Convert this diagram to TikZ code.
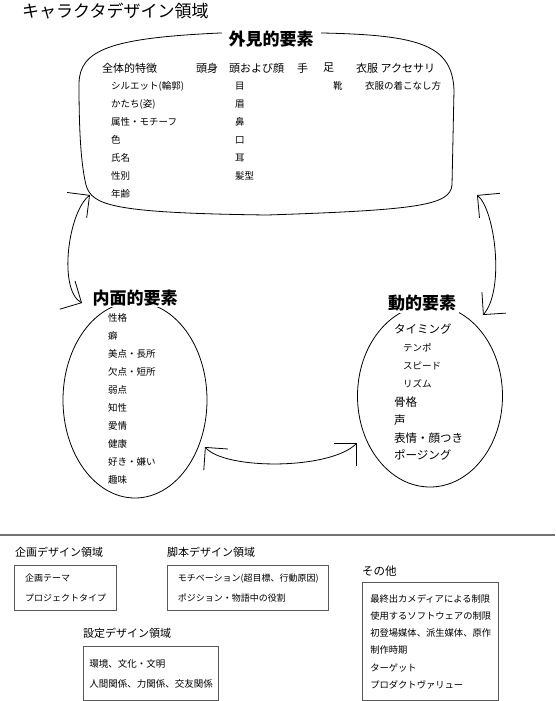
\documentclass[tikz,border=0pt]{standalone}
\usepackage{fontspec}
\setmainfont{Noto Sans CJK JP}
\usetikzlibrary{positioning,arrows.meta,shapes.geometric}
\tikzset{
  midasi/.style={font=\fontsize{17}{17}\selectfont\bfseries,fill=white,inner xsep=7pt,inner ysep=2pt},
  bunrui/.style={font=\fontsize{11}{11}\selectfont,anchor=west,inner sep=0pt},
  koumoku/.style={font=\fontsize{9.5}{9.5}\selectfont,anchor=west,inner sep=0pt},
  dousa/.style={font=\fontsize{11.5}{11.5}\selectfont,anchor=west,inner sep=0pt},
  hako/.style={draw=black!65,line width=1.4pt,anchor=north west,align=left,inner sep=0pt,font=\fontsize{9}{20}\selectfont},
  rinkaku/.style={line width=0.8pt},
  barb/.tip={Straight Barb[length=16pt,width=32pt,line width=0.8pt]},
  yajirushi/.style={barb-barb,line width=0.8pt},
}

\begin{document}
\begin{tikzpicture}[x=1pt,y=-1pt]
  \useasboundingbox (0,0) rectangle (555,701);
  \node[anchor=west,inner sep=0pt,font=\fontsize{17}{17}\selectfont] (ryouiki) at (22,11) {キャラクタデザイン領域};

  % gaiken
  \draw[rinkaku] (79,83) .. controls (80,50) and (110,38) .. (220,33) -- (322,33)
    .. controls (420,35) and (452,45) .. (454,90) -- (452,185)
    .. controls (450,205) and (420,210) .. (267,215)
    .. controls (110,213) and (92,205) .. (86,185)
    .. controls (80,160) and (79,120) .. cycle;
  \node[midasi] (gaiken) at (271,39) {外見的要素};
  \node[bunrui] (zentai) at (102,68) {全体的特徴};
  \node[bunrui] (toushin) at (196,68) {頭身};
  \node[bunrui] (kao) at (229,68) {頭および顔};
  \node[bunrui] (te) at (297,68) {手};
  \node[bunrui] (ashi) at (323,68) {足};
  \node[bunrui] (ifuku) at (356,68) {衣服 アクセサリ};
  \foreach \t [count=\i] in {シルエット(輪郭),かたち(姿),属性・モチーフ,色,氏名,性別,年齢}
    \node[koumoku] (zentai-\i) at (111,68+18*\i) {\t};
  \foreach \t [count=\i] in {目,眉,鼻,口,耳,髪型}
    \node[koumoku] (kao-\i) at (235,68+18*\i) {\t};
  \node[koumoku] (kutsu) at (333,86) {靴};
  \node[koumoku] (kikonasi) at (365,86) {衣服の着こなし方};

  % naimen
  \node[ellipse,draw,rinkaku,minimum width=144pt,minimum height=196pt] (naimen) at (135,400) {};
  \node[midasi,inner xsep=3pt,inner ysep=1pt] (naimen-t) at (135,298) {内面的要素};
  \foreach \t [count=\i] in {性格,癖,美点・長所,欠点・短所,弱点,知性,愛情,健康,好き・嫌い,趣味}
    \node[koumoku] (naimen-\i) at (108,300+18*\i) {\t};

  % doute
  \node[ellipse,draw,rinkaku,minimum width=145pt,minimum height=182pt] (doute) at (430,396) {};
  \node[midasi,inner xsep=3pt] (doute-t) at (422,303) {動的要素};
  \node[dousa] (timing) at (394,329) {タイミング};
  \node[koumoku] (tempo) at (403,348) {テンポ};
  \node[koumoku] (speed) at (403,366) {スピード};
  \node[koumoku] (rhythm) at (403,384) {リズム};
  \node[dousa] (kokkaku) at (394,402) {骨格};
  \node[dousa] (koe) at (394,420) {声};
  \node[dousa] (hyoujou) at (394,438) {表情・顔つき};
  \node[dousa] (posing) at (394,455) {ポージング};

  \coordinate (g-l) at (90,195);
  \coordinate (g-r) at (477,195);
  \coordinate (n-t) at (82,303);
  \coordinate (n-r) at (205,447);
  \coordinate (d-t) at (483,315);
  \coordinate (d-l) at (357,443);
  \draw[yajirushi] (g-l) .. controls (68,212) and (58,290) .. (n-t);
  \draw[yajirushi] (g-r) .. controls (495,210) and (505,290) .. (d-t);
  \draw[yajirushi] (n-r) .. controls (225,470) and (330,470) .. (d-l);

  \draw[black!55,line width=1.5pt] (0,535) -- (555,535);

  % sonota no ryouiki
  \node[bunrui] (kikaku-t) at (15,552) {企画デザイン領域};
  \node[hako,minimum width=102pt,minimum height=45pt] (kikaku) at (14,565) {企画テーマ\\プロジェクトタイプ};
  \node[bunrui] (kyakuhon-t) at (167,552) {脚本デザイン領域};
  \node[hako,minimum width=161pt,minimum height=45pt] (kyakuhon) at (167,565) {モチベーション(超目標、行動原因)\\ポジション・物語中の役割};
  \node[bunrui] (settei-t) at (83,633) {設定デザイン領域};
  \node[hako,minimum width=135pt,minimum height=54pt,font=\fontsize{9.5}{20}\selectfont] (settei) at (83,646) {環境、文化・文明\\人間関係、力関係、交友関係};
  \node[bunrui,font=\fontsize{11.5}{11.5}\selectfont] (sonota-t) at (362,571) {その他};
  \node[hako,minimum width=136pt,minimum height=118pt,font=\fontsize{9.3}{17.2}\selectfont] (sonota) at (362,582)
    {最終出カメディアによる制限\\使用するソフトウェアの制限\\初登場媒体、派生媒体、原作\\制作時期\\ターゲット\\プロダクトヴァリュー};
\end{tikzpicture}
\end{document}
